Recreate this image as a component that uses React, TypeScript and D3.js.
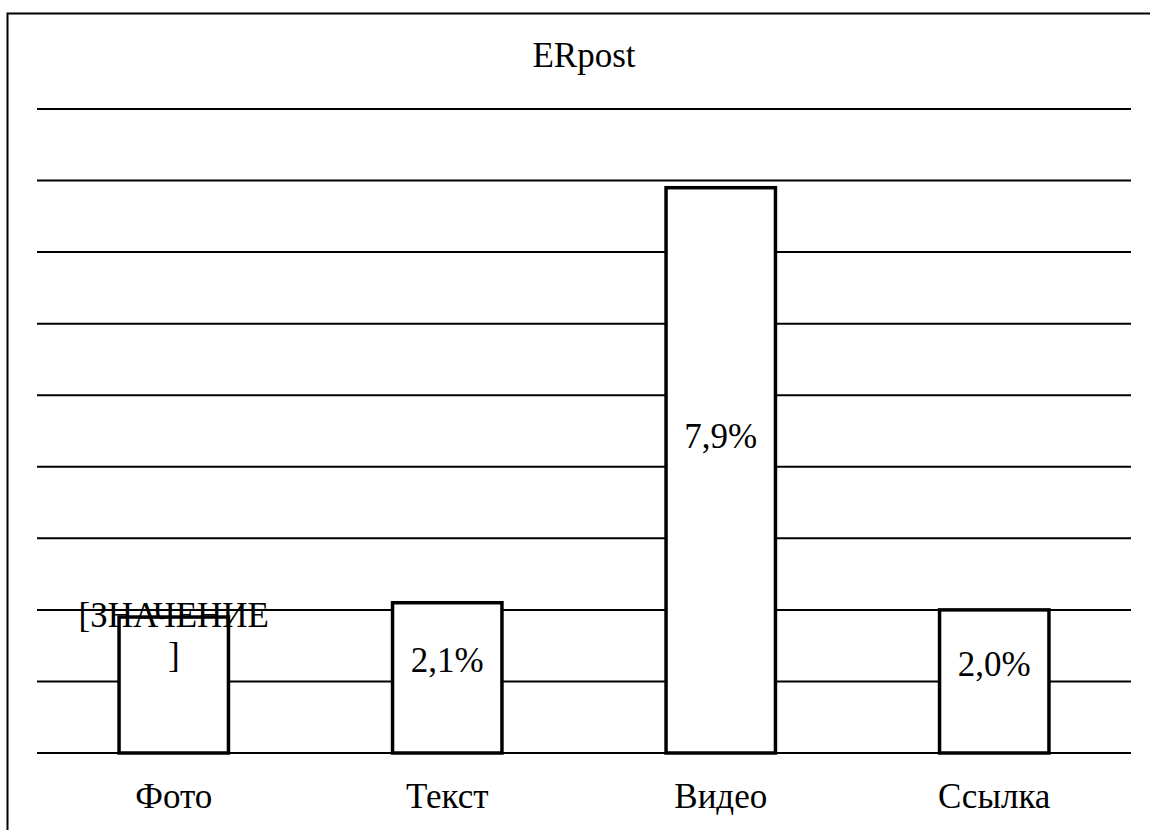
import React from "react";
import * as d3 from "d3";

const categories = ["Фото", "Текст", "Видео", "Ссылка"];
const values = [1.9, 2.1, 7.9, 2.0];
const valueLabels = ["[ЗНАЧЕНИЕ\n]", "2,1%", "7,9%", "2,0%"];
const yTicks = [0, 1, 2, 3, 4, 5, 6, 7, 8, 9];
const title = "ERpost";

const W = 1150;
const H = 830;
const FONT = "Liberation Serif, Times New Roman, DejaVu Serif, serif";
const textStyle = { fontFamily: FONT, fontSize: "35px" };

export default function App() {
  const left = 37;
  const right = 1131;
  const top = 109;
  const bottom = 753;

  const x = d3.scaleBand<string>().domain(categories).range([left, right]).paddingInner(0.6).paddingOuter(0.3);
  const y = d3.scaleLinear().domain([0, 9]).range([bottom, top]);

  return (
    <svg
      width={W}
      height={H}
      style={{ position: "absolute", left: 0, top: 0, background: "#fff" }}
    >
      <rect x={7.5} y={13.5} width={W + 20} height={H + 20} fill="#fff" stroke="#000" strokeWidth={2} />
      <text x={(left + right) / 2} y={67} textAnchor="middle" style={textStyle} fill="#000">
        {title}
      </text>
      {yTicks.map((t) => (
        <line key={t} x1={left} x2={right} y1={y(t)} y2={y(t)} stroke="#000" strokeWidth={2} />
      ))}
      {categories.map((c, i) => (
        <rect
          key={c}
          x={x(c)!}
          y={y(values[i])}
          width={x.bandwidth()}
          height={y(0) - y(values[i])}
          fill="#fff"
          stroke="#000"
          strokeWidth={3.5}
        />
      ))}
      {categories.map((c, i) => {
        const cx = x(c)! + x.bandwidth() / 2;
        const lines = valueLabels[i].split("\n");
        const base = y(values[i] * 0.54);
        if (lines.length === 1) {
          return (
            <text key={c} x={cx} y={base} textAnchor="middle" style={textStyle} fill="#000">
              {lines[0]}
            </text>
          );
        }
        return (
          <text key={c} x={cx} y={base - 53} textAnchor="middle" style={textStyle} fill="#000">
            {lines.map((l, j) => (
              <tspan key={j} x={cx} dy={j === 0 ? 0 : 40}>
                {l}
              </tspan>
            ))}
          </text>
        );
      })}
      {categories.map((c) => (
        <text key={c} x={x(c)! + x.bandwidth() / 2} y={808} textAnchor="middle" style={textStyle} fill="#000">
          {c}
        </text>
      ))}
    </svg>
  );
}
